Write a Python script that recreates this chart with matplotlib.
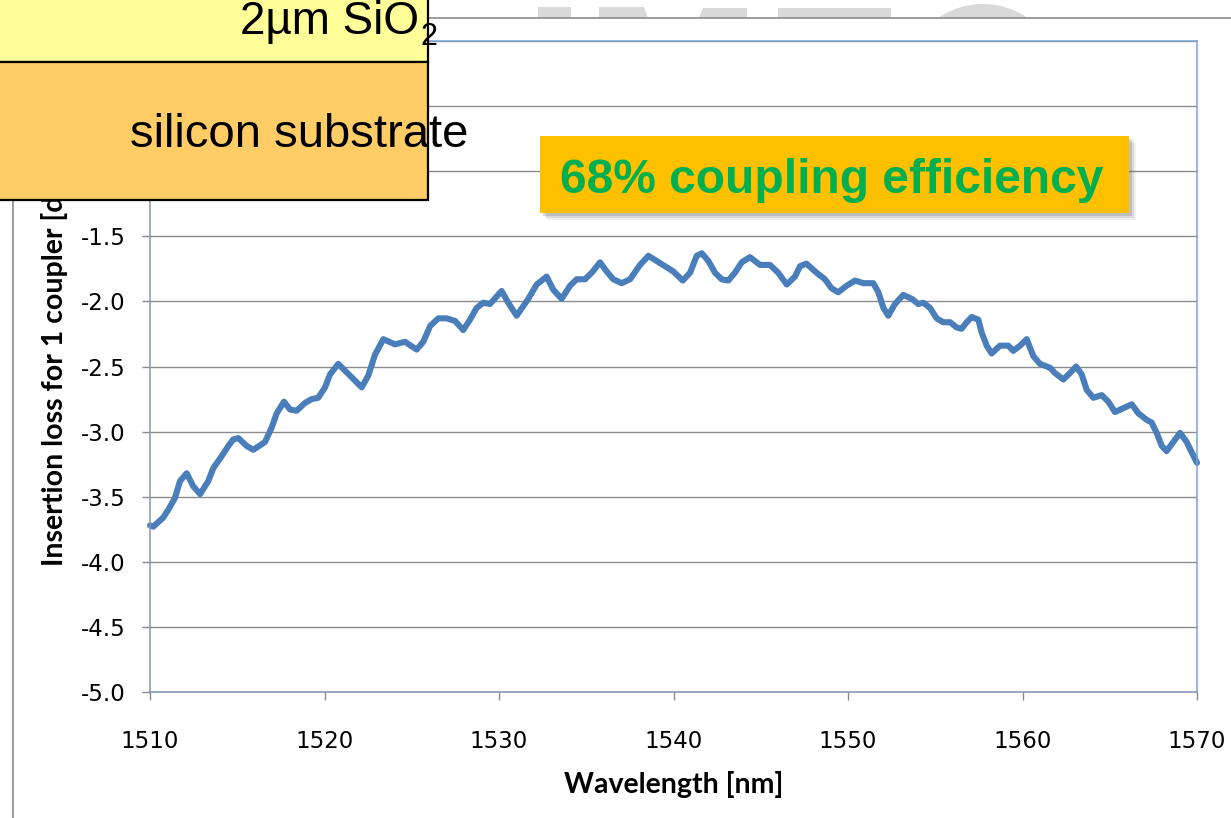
import numpy as np
import matplotlib
matplotlib.use("Agg")
import matplotlib.pyplot as plt
from matplotlib.patches import Rectangle, Polygon, Circle
from matplotlib.ticker import FormatStrFormatter, MultipleLocator

plt.rcParams['axes.unicode_minus'] = False

# measured insertion loss of one grating coupler
wavelength_nm = [
    1510.00, 1510.19, 1510.76, 1511.05, 1511.43, 1511.72, 1512.10, 1512.48, 1512.87, 1513.34,
    1513.63, 1514.10, 1514.49, 1514.77, 1515.06, 1515.54, 1515.92, 1516.59, 1516.97, 1517.26,
    1517.68, 1518.02, 1518.40, 1518.88, 1519.27, 1519.64, 1520.03, 1520.32, 1520.79, 1521.46,
    1522.13, 1522.51, 1522.89, 1523.37, 1524.04, 1524.61, 1525.28, 1525.66, 1526.05, 1526.52,
    1527.00, 1527.48, 1527.95, 1528.34, 1528.72, 1529.10, 1529.48, 1530.15, 1530.53, 1531.01,
    1531.68, 1532.16, 1532.73, 1533.11, 1533.59, 1534.07, 1534.45, 1534.93, 1535.31, 1535.79,
    1536.17, 1536.55, 1537.03, 1537.51, 1538.08, 1538.56, 1539.04, 1539.51, 1539.99, 1540.53,
    1540.95, 1541.33, 1541.62, 1542.00, 1542.38, 1542.76, 1543.14, 1543.52, 1543.91, 1544.38,
    1544.96, 1545.53, 1546.00, 1546.49, 1546.96, 1547.25, 1547.62, 1548.20, 1548.68, 1549.06,
    1549.44, 1549.92, 1550.40, 1550.88, 1551.45, 1551.74, 1552.03, 1552.31, 1552.69, 1553.17,
    1553.65, 1554.03, 1554.32, 1554.70, 1555.08, 1555.46, 1555.85, 1556.23, 1556.51, 1556.80,
    1557.09, 1557.47, 1557.66, 1557.95, 1558.23, 1558.71, 1559.19, 1559.47, 1559.86, 1560.24,
    1560.62, 1561.00, 1561.58, 1561.86, 1562.34, 1562.72, 1563.07, 1563.39, 1563.68, 1564.06,
    1564.54, 1564.92, 1565.30, 1565.78, 1566.26, 1566.64, 1567.12, 1567.40, 1567.69, 1567.98,
    1568.26, 1568.64, 1569.03, 1569.41, 1569.70, 1570.00,
]
insertion_loss_db = [
    -3.72, -3.73, -3.66, -3.60, -3.51, -3.38, -3.32, -3.42, -3.48, -3.38,
    -3.28, -3.19, -3.11, -3.06, -3.05, -3.11, -3.14, -3.08, -2.97, -2.86,
    -2.77, -2.83, -2.84, -2.78, -2.75, -2.74, -2.66, -2.56, -2.48, -2.57,
    -2.66, -2.57, -2.41, -2.29, -2.33, -2.31, -2.37, -2.31, -2.19, -2.13,
    -2.13, -2.15, -2.22, -2.14, -2.05, -2.01, -2.02, -1.92, -2.01, -2.11,
    -1.98, -1.87, -1.81, -1.91, -1.98, -1.88, -1.83, -1.83, -1.78, -1.70,
    -1.77, -1.83, -1.86, -1.83, -1.72, -1.65, -1.69, -1.73, -1.77, -1.84,
    -1.78, -1.65, -1.63, -1.69, -1.78, -1.83, -1.84, -1.78, -1.70, -1.66,
    -1.72, -1.72, -1.78, -1.87, -1.81, -1.73, -1.71, -1.78, -1.83, -1.90,
    -1.93, -1.88, -1.84, -1.86, -1.86, -1.93, -2.05, -2.11, -2.02, -1.95,
    -1.98, -2.02, -2.01, -2.05, -2.13, -2.16, -2.16, -2.20, -2.21, -2.16,
    -2.12, -2.14, -2.24, -2.34, -2.40, -2.34, -2.34, -2.38, -2.34, -2.29,
    -2.42, -2.48, -2.51, -2.55, -2.60, -2.55, -2.50, -2.56, -2.68, -2.74,
    -2.72, -2.77, -2.85, -2.82, -2.79, -2.86, -2.91, -2.93, -3.01, -3.11,
    -3.15, -3.08, -3.01, -3.08, -3.16, -3.24,
]
x_ticks = [1510, 1520, 1530, 1540, 1550, 1560, 1570]

W, H = 1231, 818


def fx(x):
    return x / W


def fy(y):
    return 1 - y / H


fig = plt.figure(figsize=(W / 100, H / 100), dpi=100)
fig.patch.set_facecolor('white')

# grey letter tops peeking out above the chart
wm = '#d9d9d9'
fig.add_artist(Rectangle((fx(538), fy(18)), fx(33), 11 / H, transform=fig.transFigure,
                         color=wm, lw=0, zorder=0.1))
fig.add_artist(Polygon([(fx(599), fy(7)), (fx(644), fy(7)), (fx(648), fy(18)), (fx(599), fy(18))],
                       transform=fig.transFigure, color=wm, lw=0, zorder=0.1))
fig.add_artist(Polygon([(fx(703), fy(8)), (fx(747), fy(8)), (fx(747), fy(18)), (fx(699), fy(18))],
                       transform=fig.transFigure, color=wm, lw=0, zorder=0.1))
fig.add_artist(Rectangle((fx(778), fy(18)), fx(113), 10 / H, transform=fig.transFigure,
                         color=wm, lw=0, zorder=0.1))
fig.add_artist(Circle((983, H - 83), 79, color=wm, lw=0, zorder=0.1, transform=None))

# chart frame (runs off the right and bottom edges)
fig.add_artist(Rectangle((fx(13), -0.5), 2, fy(18) + 0.5, transform=fig.transFigure,
                         facecolor='white', edgecolor='#8c8c8c', lw=1.2, zorder=0.2))

ax = fig.add_axes([fx(150), fy(692), fx(1047), 651 / H])
ax.set_zorder(0.5)
ax.plot(wavelength_nm, insertion_loss_db, color='#4a7ebb', lw=4.4,
        solid_joinstyle='round', solid_capstyle='round', clip_on=False)

ax.set_xlim(1510, 1570)
ax.set_ylim(-5.0, 0.0)
ax.set_xticks(x_ticks)
ax.yaxis.set_major_locator(MultipleLocator(0.5))
ax.yaxis.set_major_formatter(FormatStrFormatter('%.1f'))
ax.yaxis.grid(True, color='#8c8c8c', lw=1.0)
ax.set_axisbelow(True)

ax.spines['left'].set_color('#8896a8')
ax.spines['bottom'].set_color('#7f93b5')
ax.spines['top'].set_color('#7aa0d4')
ax.spines['right'].set_color('#7aa0d4')
for s in ax.spines.values():
    s.set_linewidth(1.1)

ax.tick_params(axis='y', direction='out', length=5.5, width=1, color='#8a8a8a',
               pad=12, labelsize=16.5)
ax.tick_params(axis='x', direction='out', length=5.5, width=1, color='#8a8a8a',
               pad=22, labelsize=16.5)

ax.set_xlabel('Wavelength [nm]', fontsize=20.5, fontweight='bold', family='Lato')
ax.xaxis.set_label_coords(0.5, (692 - 785) / 651)
ax.xaxis.label.set_va('center')
ax.set_ylabel('Insertion loss for 1 coupler [dB]', fontsize=20.5, fontweight='bold', family='Lato')
ax.yaxis.set_label_coords((55 - 150) / 1047, 0.5)
ax.yaxis.label.set_va('center')

# layer stack boxes
fig.add_artist(Rectangle((fx(-10), fy(62)), fx(438), 80 / H, transform=fig.transFigure,
                         facecolor='#ffff99', edgecolor='black', lw=1.6, zorder=2))
fig.add_artist(Rectangle((fx(-10), fy(200)), fx(438), 138 / H, transform=fig.transFigure,
                         facecolor='#ffcc66', edgecolor='black', lw=1.6, zorder=2))
fig.text(fx(419), fy(34), '2µm SiO', ha='right', va='baseline', fontsize=33,
         family='Liberation Sans', zorder=3)
fig.text(fx(421), fy(45), '2', ha='left', va='baseline', fontsize=22,
         family='Liberation Sans', zorder=3)
fig.text(fx(130), fy(147), 'silicon substrate', ha='left', va='baseline', fontsize=34,
         family='Liberation Sans', zorder=3)

# efficiency callout with a soft shadow
for off, a in [(7, 0.08), (5, 0.12), (3, 0.18)]:
    fig.add_artist(Rectangle((fx(540 + off), fy(213 + off)), fx(589), 77 / H,
                             transform=fig.transFigure, color='#404040', alpha=a,
                             lw=0, zorder=1.9))
fig.add_artist(Rectangle((fx(540), fy(213)), fx(589), 77 / H, transform=fig.transFigure,
                         facecolor='#ffc000', lw=0, zorder=2))
fig.text(fx(560), fy(193), '68% coupling efficiency', ha='left', va='baseline',
         fontsize=34.5, fontweight='bold', color='#00b050', family='Liberation Sans', zorder=3)

fig.savefig('out.png', dpi=100)
